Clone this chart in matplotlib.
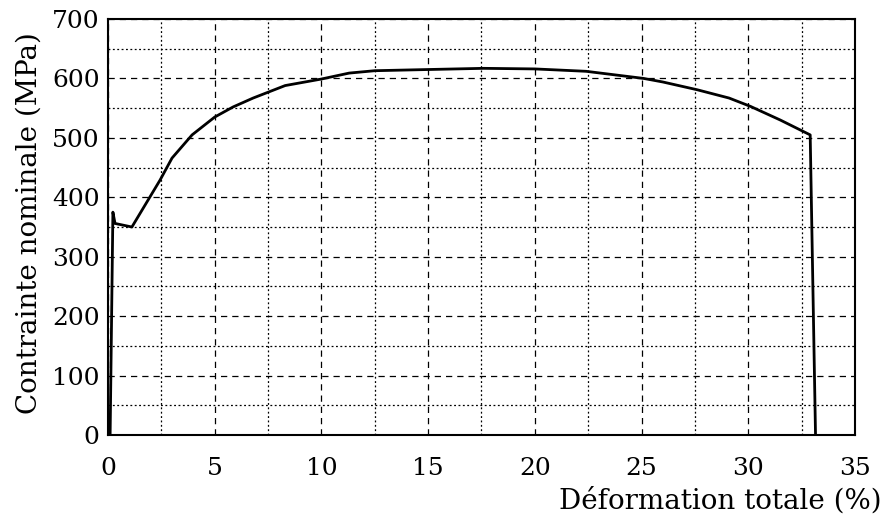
import matplotlib
matplotlib.use('Agg')
import matplotlib.pyplot as plt
from matplotlib.ticker import MultipleLocator

# Data
strain = [0.10, 0.23, 0.33, 1.12, 2.44, 3.0, 3.94, 5.0, 5.86, 6.8, 8.3, 10.0, 11.3,
          12.5, 15.0, 17.6, 20.0, 22.4, 25.1, 26.0, 27.6, 29.1, 30.1, 31.5, 32.9, 33.15]
stress = [0, 375, 356, 350, 429, 466, 505, 535, 552, 567, 588, 599, 609,
          613, 615, 617, 616, 612, 600, 594, 581, 567, 553, 530, 505, 0]

x_ticks = [0, 5, 10, 15, 20, 25, 30, 35]
y_ticks = [0, 100, 200, 300, 400, 500, 600, 700]

plt.rcParams['font.family'] = ['DejaVu Serif']

fig = plt.figure(figsize=(8.83, 5.25), dpi=100)
ax = fig.add_axes([0.1223, 0.1714, 0.8460, 0.7924])

ax.plot(strain, stress, color='black', linewidth=2.0, zorder=3)

ax.set_xlim(0, 35)
ax.set_ylim(0, 700)
ax.set_xticks(x_ticks)
ax.set_yticks(y_ticks)
ax.xaxis.set_minor_locator(MultipleLocator(2.5))
ax.yaxis.set_minor_locator(MultipleLocator(50))

ax.grid(True, which='major', linestyle=(0, (5, 4)), color='black', linewidth=0.9)
ax.grid(True, which='minor', linestyle=(0, (1.5, 2)), color='black', linewidth=0.9)
ax.tick_params(which='both', length=0, labelsize=18)
ax.tick_params(axis='x', pad=16)
ax.tick_params(axis='y', pad=6)

for s in ax.spines.values():
    s.set_linewidth(1.5)

ax.set_xlabel('Déformation totale (%)', fontsize=20, loc='right')
ax.xaxis.set_label_coords(1.036, -0.125)
ax.xaxis.label.set_verticalalignment('top')
ax.set_ylabel('Contrainte nominale (MPa)', fontsize=20)
ax.yaxis.set_label_coords(-0.088, 0.51)

fig.savefig('out.png', dpi=100)
